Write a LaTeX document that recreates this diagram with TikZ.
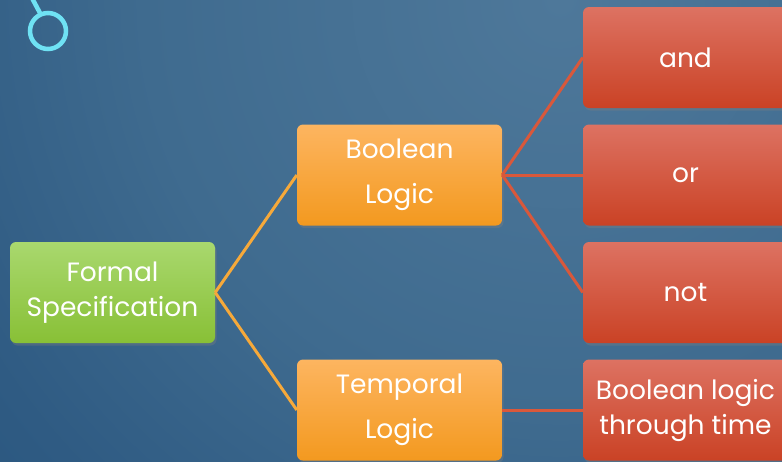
\documentclass[tikz,border=0pt]{standalone}
\usepackage{fontspec}
\setmainfont{Poppins}
\usetikzlibrary{shadows}
\definecolor{bgA}{HTML}{4E789A}
\definecolor{bgB}{HTML}{3F6B8F}
\definecolor{bgC}{HTML}{2F5B83}
\definecolor{bgD}{HTML}{214F78}
\definecolor{ringcol}{HTML}{6FE2F4}
\definecolor{greentop}{HTML}{A9D86E}
\definecolor{greenbot}{HTML}{88C036}
\definecolor{orangetop}{HTML}{FDB560}
\definecolor{orangebot}{HTML}{F3991F}
\definecolor{redtop}{HTML}{DD7262}
\definecolor{redbot}{HTML}{CA4225}
\definecolor{orangeline}{HTML}{F6A93A}
\definecolor{redline}{HTML}{D9583B}
% backdrop glow: light near the top right, fading to navy
\pgfdeclareradialshading{backglow}{\pgfpoint{0bp}{0bp}}{%
  color(0bp)=(bgA); color(13bp)=(bgB); color(21bp)=(bgC);
  color(31bp)=(bgD); color(50bp)=(bgD)}
\tikzset{
  box/.style={rounded corners=6pt, minimum width=205pt, minimum height=101pt,
    inner sep=0pt, text=white, align=center, font=\fontsize{26.5}{35}\selectfont,
    drop shadow={opacity=0.35, shadow xshift=1.5pt, shadow yshift=-2.5pt}},
  rootbox/.style={box, top color=greentop, bottom color=greenbot},
  midbox/.style={box, top color=orangetop, bottom color=orangebot},
  leafbox/.style={box, top color=redtop, bottom color=redbot},
  orangelink/.style={draw=orangeline, line width=3pt},
  redlink/.style={draw=redline, line width=3pt},
}
\begin{document}
\begin{tikzpicture}[x=1pt, y=-1pt]
  \useasboundingbox (0,0) rectangle (782,461);
  \clip (0,0) rectangle (782,461);
  % backdrop
  \fill[bgD] (0,0) rectangle (782,461);
  \shade[shading=backglow] (560,0) circle (800);
  % ring ornament
  \draw[ringcol, line width=4.5pt] (32,-2) -- (40,13);
  \draw[ringcol, line width=4.5pt] (48,31) circle (18);
  % nodes
  \node[rootbox] (fs)  at (112.5,292.5) {Formal\\Specification};
  \node[midbox]  (bl)  at (399.5,175)   {Boolean\\[10pt]Logic};
  \node[midbox]  (tl)  at (399.5,410)   {Temporal\\[10pt]Logic};
  \node[leafbox] (and) at (685.5,57.5)  {and};
  \node[leafbox] (or)  at (685.5,175)   {or};
  \node[leafbox] (not) at (685.5,292.5) {not};
  \node[leafbox] (blt) at (685.5,410)   {Boolean logic\\through time};
  % connectors
  \draw[orangelink] (fs.east) -- (bl.west);
  \draw[orangelink] (fs.east) -- (tl.west);
  \draw[redlink] (bl.east) -- (and.west);
  \draw[redlink] (bl.east) -- (or.west);
  \draw[redlink] (bl.east) -- (not.west);
  \draw[redlink] (tl.east) -- (blt.west);
\end{tikzpicture}
\end{document}
